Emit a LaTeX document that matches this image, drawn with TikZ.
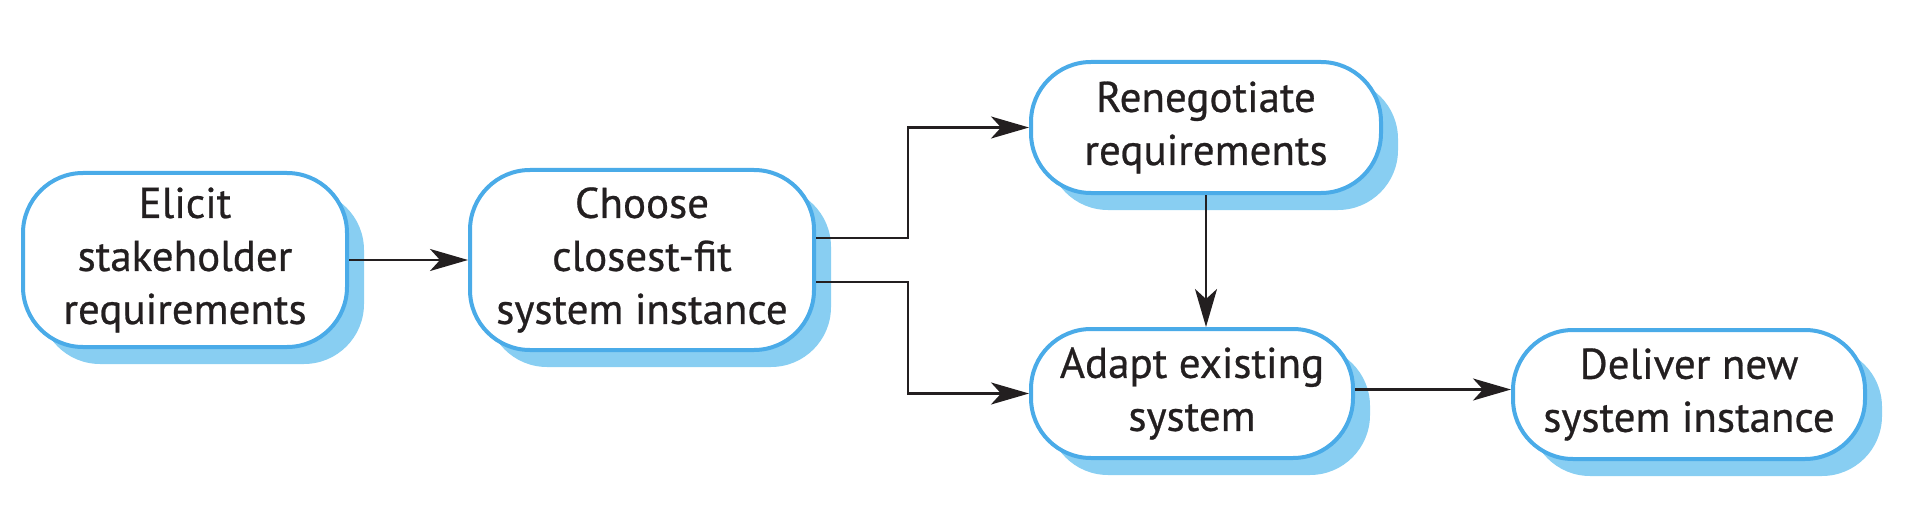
\documentclass[tikz,border=0pt]{standalone}
\usepackage{fontspec}
\setmainfont{PT Sans}
\newfontfamily\boxfont{PT Sans}[FakeBold=0.6]
\usetikzlibrary{arrows.meta,shadows,calc}
\definecolor{boxline}{HTML}{4AABE8}
\definecolor{boxshadow}{HTML}{88CEF2}
\definecolor{ink}{HTML}{231F20}
\tikzset{
  procbox/.style={draw=boxline, line width=2pt, fill=white, rounded corners=30pt,
    align=center, text=ink, inner sep=0pt,
    font=\boxfont\fontsize{21.5}{26.5}\selectfont,
    drop shadow={shadow xshift=8.5pt, shadow yshift=-8.5pt, fill=boxshadow, opacity=1}},
  flow/.style={draw=ink, line width=1.2pt, -{Stealth[length=19pt,width=11pt,inset=5pt]}}
}
\begin{document}
\begin{tikzpicture}[x=0.5pt,y=-0.5pt]
\useasboundingbox (0,0) rectangle (1912,524);
\node[procbox, minimum width=162pt, minimum height=87pt] (b1) at (185,260) {Elicit\\stakeholder\\requirements};
\node[procbox, minimum width=172pt, minimum height=90pt] (b2) at (642,260) {Choose\\closest-fit\\system instance};
\node[procbox, minimum width=175pt, minimum height=65.5pt] (b3) at (1206,127.5) {Renegotiate\\requirements};
\node[procbox, minimum width=161pt, minimum height=64.5pt] (b4) at (1192,393.5) {Adapt existing\\system};
\node[procbox, minimum width=176pt, minimum height=64.5pt] (b5) at (1689,394.5) {Deliver new\\system instance};
\coordinate (jx) at (908,0);
\coordinate (s1) at ($(b2.east)+(0,-22)$);
\coordinate (s2) at ($(b2.east)+(0,22)$);
\coordinate (s3) at ($(b4.east)+(0,-4)$);
\draw[flow] (b1.east) -- (b2.west);
\draw[flow] (s1) -- (s1 -| jx) -- (jx |- b3.west) -- (b3.west);
\draw[flow] (s2) -- (s2 -| jx) -- (jx |- b4.west) -- (b4.west);
\draw[flow] (b3.south) -- (b3.south |- b4.north);
\draw[flow] (s3) -- (s3 -| b5.west);
\end{tikzpicture}
\end{document}
